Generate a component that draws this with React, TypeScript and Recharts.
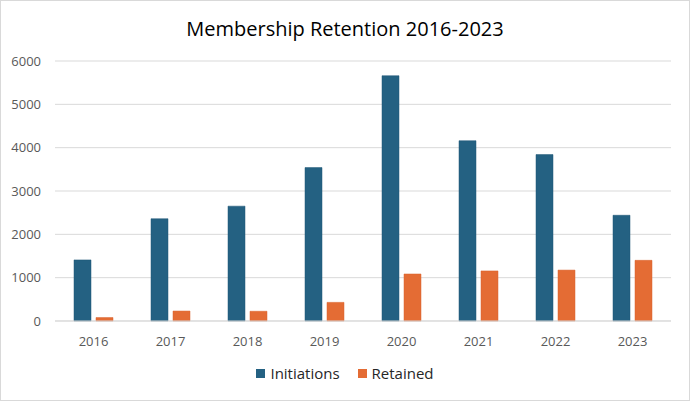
import React from 'react';
import { BarChart, Bar, XAxis, YAxis, CartesianGrid } from 'recharts';

const years = ['2016', '2017', '2018', '2019', '2020', '2021', '2022', '2023'];
const initiations = [1410, 2360, 2650, 3540, 5660, 4160, 3840, 2440];
const retained = [80, 230, 225, 430, 1085, 1155, 1175, 1400];
const yTicks = [0, 1000, 2000, 3000, 4000, 5000, 6000];

const BLUE = '#246182';
const ORANGE = '#E46C34';
const FONT = '"Open Sans", "Noto Sans", sans-serif';

const data = years.map((y, i) => ({ year: y, initiations: initiations[i], retained: retained[i] }));

function LegendItem({ color, label }: { color: string; label: string }) {
  return (
    <span style={{ display: 'inline-flex', alignItems: 'center', marginRight: 18 }}>
      <span style={{ width: 9, height: 9, background: color, display: 'inline-block', marginRight: 5 }} />
      <span>{label}</span>
    </span>
  );
}

export default function App() {
  return (
    <div
      style={{
        position: 'absolute',
        left: 0,
        top: 0,
        width: 690,
        height: 401,
        boxSizing: 'border-box',
        border: '1px solid #d9d9d9',
        background: '#fff',
        fontFamily: FONT,
      }}
    >
      <div
        style={{
          position: 'absolute',
          top: 14,
          left: 0,
          width: 688,
          textAlign: 'center',
          fontSize: 20,
          color: '#000',
        }}
      >
        Membership Retention 2016-2023
      </div>
      <div style={{ position: 'absolute', left: -1, top: -1 }}>
        <BarChart
          width={690}
          height={401}
          data={data}
          margin={{ top: 61, right: 19, bottom: 50, left: 0 }}
          barGap={5}
          barCategoryGap={19}
        >
          <CartesianGrid vertical={false} stroke="#d9d9d9" />
          <XAxis
            dataKey="year"
            height={30}
            axisLine={{ stroke: '#d9d9d9' }}
            tickLine={false}
            tick={{ fill: '#595959', fontSize: 13, fontFamily: FONT }}
            tickMargin={10}
          />
          <YAxis
            width={55}
            domain={[0, 6000]}
            ticks={yTicks}
            axisLine={false}
            tickLine={false}
            tickSize={0}
            tickMargin={14}
            tick={{ fill: '#595959', fontSize: 13, fontFamily: FONT }}
          />
          <Bar dataKey="initiations" fill={BLUE} stroke="#1d5474" strokeWidth={0.5} isAnimationActive={false} />
          <Bar dataKey="retained" fill={ORANGE} stroke="#d9622c" strokeWidth={0.5} isAnimationActive={false} />
        </BarChart>
      </div>
      <div
        style={{
          position: 'absolute',
          top: 362,
          left: 0,
          width: 688,
          display: 'flex',
          justifyContent: 'center',
          fontSize: 15,
          color: '#262626',
          paddingLeft: 18,
          boxSizing: 'border-box',
        }}
      >
        <LegendItem color={BLUE} label="Initiations" />
        <LegendItem color={ORANGE} label="Retained" />
      </div>
    </div>
  );
}
